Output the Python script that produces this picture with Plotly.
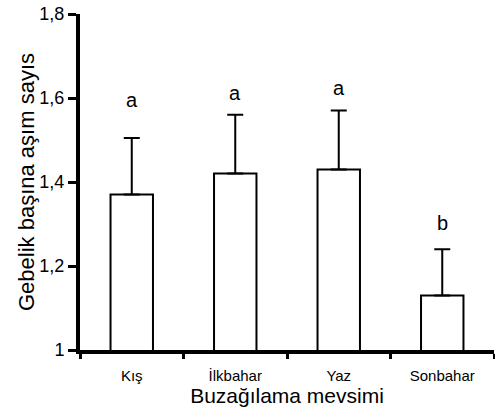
import plotly.graph_objects as go

# Calving season vs. services per conception (mean + SE)
seasons = ["Kış", "İlkbahar", "Yaz", "Sonbahar"]
means = [1.37, 1.42, 1.43, 1.13]
se = [0.135, 0.14, 0.14, 0.11]
groups = ["a", "a", "a", "b"]
letter_y = [1.596, 1.611, 1.624, 1.303]

y_ticks = [1.0, 1.2, 1.4, 1.6, 1.8]
y_tick_text = ["1", "1,2", "1,4", "1,6", "1,8"]

FONT = "Liberation Sans, Arial, sans-serif"

fig = go.Figure()
fig.add_trace(go.Bar(
    x=seasons,
    y=means,
    width=0.41,
    marker=dict(color="white", line=dict(color="black", width=2)),
    error_y=dict(type="data", symmetric=False, array=se,
                 arrayminus=[0] * len(se),
                 color="black", thickness=2, width=8),
    showlegend=False,
))

for s, g, ly in zip(seasons, groups, letter_y):
    fig.add_annotation(x=s, y=ly, text=g, showarrow=False,
                       xanchor="center", yanchor="middle",
                       font=dict(family=FONT, size=20, color="black"))

fig.update_layout(
    width=495, height=412,
    margin=dict(l=80, r=1, t=14, b=62),
    paper_bgcolor="white", plot_bgcolor="white",
    font=dict(family=FONT, color="black"),
)

fig.update_xaxes(
    range=[-0.5, 3.5],
    showline=True, linecolor="black", linewidth=4,
    ticks="outside", tickson="boundaries", ticklen=5, tickwidth=3,
    tickcolor="black", ticklabelstandoff=9,
    tickfont=dict(family=FONT, size=15),
    showgrid=False, zeroline=False,
    title=dict(text="Buzağılama mevsimi", standoff=3,
               font=dict(family=FONT, size=21)),
)

fig.update_yaxes(
    range=[1.0, 1.8],
    tickvals=y_ticks, ticktext=y_tick_text,
    showline=True, linecolor="black", linewidth=4,
    ticks="outside", ticklen=8, tickwidth=3, tickcolor="black",
    tickfont=dict(family=FONT, size=18),
    showgrid=False, zeroline=False,
    title=dict(text="Gebelik başına aşım sayıs", standoff=0,
               font=dict(family=FONT, size=22)),
)

fig.write_html("out.html")
